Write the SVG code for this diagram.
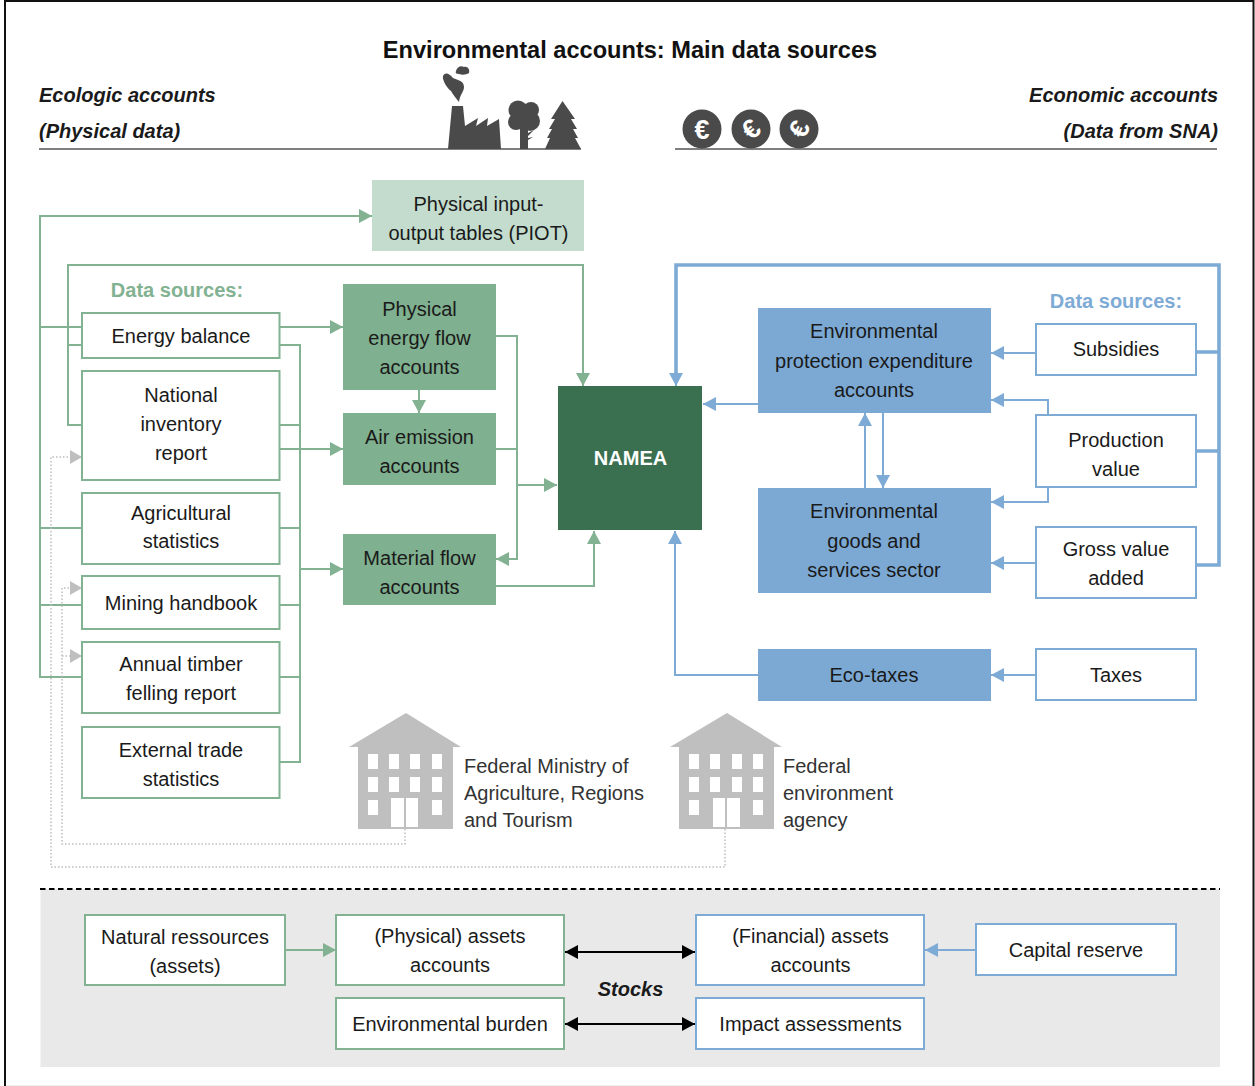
<svg xmlns="http://www.w3.org/2000/svg" width="1255" height="1086" viewBox="0 0 1255 1086">
<defs>
<style>
text{font-family:"Liberation Sans",Arial,sans-serif;font-size:20px;fill:#1a1a1a;text-anchor:middle}
.t{font-weight:700;font-size:23.6px;fill:#111}
.h{font-weight:700;font-style:italic;text-anchor:start;fill:#1a1a1a}
.e{text-anchor:end}
.g{fill:#82b292;font-weight:700}
.b{fill:#7eabd5;font-weight:700}
.l{text-anchor:start;fill:#333}
.gb{fill:#fff;stroke:#82b292;stroke-width:2}
.bb{fill:#fff;stroke:#7eabd5;stroke-width:2}
.gf{fill:#7fb08f}
.bf{fill:#7ba9d4}
.gl{fill:none;stroke:#82b292;stroke-width:2}
.bl{fill:none;stroke:#7eabd5;stroke-width:2}
.bt{fill:none;stroke:#7eabd5;stroke-width:3.600}
.dl{fill:none;stroke:#bdbdbd;stroke-width:1.500;stroke-dasharray:1.500 2}
.kl{fill:none;stroke:#000;stroke-width:2}
.ic{fill:#4a4a4a}
.bd{fill:#bfbfbf}
.w{fill:#fff}
</style>
<marker id="ag" viewBox="0 0 13 14" refX="13" refY="7" markerWidth="13" markerHeight="14" markerUnits="userSpaceOnUse" orient="auto"><path d="M0 0L13 7L0 14Z" fill="#82b292"/></marker>
<marker id="ab" viewBox="0 0 13 14" refX="13" refY="7" markerWidth="13" markerHeight="14" markerUnits="userSpaceOnUse" orient="auto"><path d="M0 0L13 7L0 14Z" fill="#7eabd5"/></marker>
<marker id="ay" viewBox="0 0 12 14" refX="12" refY="7" markerWidth="12" markerHeight="14" markerUnits="userSpaceOnUse" orient="auto"><path d="M0 0L12 7L0 14Z" fill="#bfbfbf"/></marker>
<marker id="ak" viewBox="0 0 13 14" refX="13" refY="7" markerWidth="13" markerHeight="14" markerUnits="userSpaceOnUse" orient="auto-start-reverse"><path d="M0 0L13 7L0 14Z" fill="#000"/></marker>
</defs>
<rect width="1255" height="1086" fill="#fff"/>
<path d="M5 1086V1H1253.500V1086" fill="none" stroke="#111" stroke-width="2"/>
<path d="M6 1085.500H1252" fill="none" stroke="#eee" stroke-width="1"/>
<rect x="40.500" y="889" width="1179.500" height="178" fill="#e9e9e9"/>
<path d="M40 889H1220" fill="none" stroke="#000" stroke-width="1.800" stroke-dasharray="5.500 3.500"/>

<g id="header">
<text class="t" x="630" y="57.500">Environmental accounts: Main data sources</text>
<text class="h" x="39" y="102">Ecologic accounts</text>
<text class="h" x="39" y="138">(Physical data)</text>
<text class="h e" x="1218" y="102" style="text-anchor:end">Economic accounts</text>
<text class="h e" x="1218" y="138" style="text-anchor:end">(Data from SNA)</text>
<path d="M39 149H581M675 149H1217" stroke="#555" stroke-width="1.500" fill="none"/>
</g>
<g id="icon-factory">
<path class="ic" d="M448 149L452 106H463L465 126L478 118L476 126L488 118L487 126L499 119L501 149Z"/>
<path class="ic" d="M443 76C445 72 449 73 453 78C458 80 464 81 464 87C464 92 460 94 459 102C456 98 453 95 451 91C447 88 442 80 443 76Z"/>
<path class="ic" d="M456 71C457 67 461 65 464 67C468 66 470 70 469 73C466 75 462 75 459 74C456 74 455 73 456 71Z"/>
</g>
<g id="icon-tree">
<circle class="ic" cx="518" cy="110" r="9.500"/><circle class="ic" cx="531" cy="110" r="8"/><circle class="ic" cx="516" cy="122" r="8"/><circle class="ic" cx="530" cy="121" r="10"/><circle class="ic" cx="523" cy="118" r="9"/>
<path class="ic" d="M520 125H528V133L534 130L528 136V138L533 137L528 140V149H520Z"/>
</g>
<g id="icon-pine">
<path class="ic" d="M562.500 101L575 119H571L577 129H573L578 138H575L581 149H545L550 138H547L552 129H549L555 119H551Z"/>
</g>
<g id="icon-euro">
<circle class="ic" cx="702" cy="129" r="19.500"/><circle class="ic" cx="751" cy="129" r="19.500"/><circle class="ic" cx="799" cy="129" r="19.500"/>
<text x="702" y="138.500" style="font-size:27px;font-weight:700;fill:#fff">€</text>
<text transform="rotate(-40 751 129)" x="751" y="138.500" style="font-size:27px;font-weight:700;fill:#fff">€</text>
<text transform="rotate(-65 799 129)" x="799" y="138.500" style="font-size:27px;font-weight:700;fill:#fff">€</text>
</g>

<g id="connectors">
<path class="gl" d="M82 677H40V216H372" marker-end="url(#ag)"/>
<path class="gl" d="M40 327H82M40 528H82M40 605H82"/>
<path class="gl" d="M82 425H68V265H583V386" marker-end="url(#ag)"/>
<path class="gl" d="M68 345H82"/>
<path class="gl" d="M280 345H300V762H280M280 425H300M280 528H300M280 605H300M280 677H300"/>
<path class="gl" d="M300 569H343" marker-end="url(#ag)"/>
<path class="gl" d="M280 327H343" marker-end="url(#ag)"/>
<path class="gl" d="M280 449H343" marker-end="url(#ag)"/>
<path class="gl" d="M419 390V413" marker-end="url(#ag)"/>
<path class="gl" d="M495 336H517V559H496" marker-end="url(#ag)"/>
<path class="gl" d="M495 449H517"/>
<path class="gl" d="M517 485H557" marker-end="url(#ag)"/>
<path class="gl" d="M495 586H594V531" marker-end="url(#ag)"/>
<path class="gl" d="M285 950H336" marker-end="url(#ag)"/>
<path class="bt" d="M1196 565H1219V265H676V375"/>
<path class="bt" d="M1196 352H1219M1196 451H1219"/>
<path class="bl" d="M676 360V386" marker-end="url(#ab)"/>
<path class="bl" d="M758 404H703" marker-end="url(#ab)"/>
<path class="bl" d="M758 675H675V531" marker-end="url(#ab)"/>
<path class="bl" d="M865 488V413" marker-end="url(#ab)"/>
<path class="bl" d="M883 413V488" marker-end="url(#ab)"/>
<path class="bl" d="M1036 353H991" marker-end="url(#ab)"/>
<path class="bl" d="M1048 415V400H991" marker-end="url(#ab)"/>
<path class="bl" d="M1048 487V502H991" marker-end="url(#ab)"/>
<path class="bl" d="M1036 563H991" marker-end="url(#ab)"/>
<path class="bl" d="M1036 675H991" marker-end="url(#ab)"/>
<path class="bl" d="M976 950H925" marker-end="url(#ab)"/>
<path class="dl" d="M725 829V867H51V457H82" marker-end="url(#ay)"/>
<path class="dl" d="M405 829V844H62V588H82" marker-end="url(#ay)"/>
<path class="dl" d="M62 656H82" marker-end="url(#ay)"/>
<path class="kl" d="M565 952H695" marker-start="url(#ak)" marker-end="url(#ak)"/>
<path class="kl" d="M565 1024H695" marker-start="url(#ak)" marker-end="url(#ak)"/>
</g>

<text class="g" x="177" y="297">Data sources:</text>
<text class="b" x="1116" y="308">Data sources:</text>

<g id="piot"><rect x="372" y="180" width="212" height="71" fill="#c3dccd"/><text x="478.500" y="211">Physical input-</text><text x="478.500" y="240">output tables (PIOT)</text></g>
<g id="energy-balance"><rect class="gb" x="82" y="313" width="197.500" height="45"/><text x="181" y="343">Energy balance</text></g>
<g id="national-inventory"><rect class="gb" x="82" y="371" width="197.500" height="109"/><text x="181" y="402">National</text><text x="181" y="431">inventory</text><text x="181" y="460">report</text></g>
<g id="agricultural"><rect class="gb" x="82" y="493" width="197.500" height="71"/><text x="181" y="520">Agricultural</text><text x="181" y="548">statistics</text></g>
<g id="mining"><rect class="gb" x="82" y="576" width="197.500" height="53"/><text x="181" y="610">Mining handbook</text></g>
<g id="timber"><rect class="gb" x="82" y="642" width="197.500" height="71"/><text x="181" y="671">Annual timber</text><text x="181" y="700">felling report</text></g>
<g id="trade"><rect class="gb" x="82" y="727" width="197.500" height="71"/><text x="181" y="757">External trade</text><text x="181" y="786">statistics</text></g>

<g id="energy-flow"><rect class="gf" x="343" y="284" width="153" height="106"/><text x="419.500" y="316">Physical</text><text x="419.500" y="345">energy flow</text><text x="419.500" y="374">accounts</text></g>
<g id="air-emission"><rect class="gf" x="343" y="413" width="153" height="72"/><text x="419.500" y="444">Air emission</text><text x="419.500" y="473">accounts</text></g>
<g id="material-flow"><rect class="gf" x="343" y="534" width="153" height="71"/><text x="419.500" y="565">Material flow</text><text x="419.500" y="594">accounts</text></g>
<g id="namea"><rect x="558" y="386" width="144" height="144" fill="#3a6f50"/><text x="630.500" y="465" style="fill:#fff;font-weight:700">NAMEA</text></g>

<g id="epe"><rect class="bf" x="758" y="308" width="233" height="105"/><text x="874" y="338">Environmental</text><text x="874" y="368">protection expenditure</text><text x="874" y="397">accounts</text></g>
<g id="egs"><rect class="bf" x="758" y="488" width="233" height="105"/><text x="874" y="518">Environmental</text><text x="874" y="548">goods and</text><text x="874" y="577">services sector</text></g>
<g id="eco-taxes"><rect class="bf" x="758" y="649" width="233" height="52"/><text x="874" y="682">Eco-taxes</text></g>
<g id="subsidies"><rect class="bb" x="1036" y="324" width="160" height="51"/><text x="1116" y="356">Subsidies</text></g>
<g id="production"><rect class="bb" x="1036" y="415" width="160" height="72"/><text x="1116" y="447">Production</text><text x="1116" y="476">value</text></g>
<g id="gross"><rect class="bb" x="1036" y="527" width="160" height="71"/><text x="1116" y="556">Gross value</text><text x="1116" y="585">added</text></g>
<g id="taxes"><rect class="bb" x="1036" y="649" width="160" height="51"/><text x="1116" y="682">Taxes</text></g>

<g id="ministry">
<path class="bd" d="M349 747L406 713L461 747H453V829H358V747Z"/>
<path class="w" d="M368 754h10v15h-10zM389 754h10v15h-10zM410 754h10v15h-10zM432 754h10v15h-10zM368 777h10v15h-10zM389 777h10v15h-10zM410 777h10v15h-10zM432 777h10v15h-10zM368 800h10v15h-10zM432 800h10v15h-10zM391 798h13v29h-13zM406 798h12v29h-12z"/>
<text class="l" x="464" y="773">Federal Ministry of</text><text class="l" x="464" y="800">Agriculture, Regions</text><text class="l" x="464" y="827">and Tourism</text>
</g>
<g id="agency">
<path class="bd" d="M670 747L727 713L782 747H774V829H679V747Z"/>
<path class="w" d="M689 754h10v15h-10zM710 754h10v15h-10zM732 754h10v15h-10zM753 754h10v15h-10zM689 777h10v15h-10zM710 777h10v15h-10zM732 777h10v15h-10zM753 777h10v15h-10zM689 800h10v15h-10zM753 800h10v15h-10zM713 798h12v29h-12zM727 798h13v29h-13z"/>
<text class="l" x="783" y="773">Federal</text><text class="l" x="783" y="800">environment</text><text class="l" x="783" y="827">agency</text>
</g>

<g id="natural"><rect class="gb" x="85" y="915" width="200" height="70"/><text x="185" y="944">Natural ressources</text><text x="185" y="973">(assets)</text></g>
<g id="physical-assets"><rect class="gb" x="336" y="915" width="228" height="70"/><text x="450" y="943">(Physical) assets</text><text x="450" y="972">accounts</text></g>
<g id="financial-assets"><rect class="bb" x="696" y="915" width="228" height="70"/><text x="810.500" y="943">(Financial) assets</text><text x="810.500" y="972">accounts</text></g>
<g id="capital"><rect class="bb" x="976" y="924" width="200" height="51"/><text x="1076" y="957">Capital reserve</text></g>
<g id="burden"><rect class="gb" x="336" y="998" width="228" height="51"/><text x="450" y="1031">Environmental burden</text></g>
<g id="impact"><rect class="bb" x="696" y="998" width="228" height="51"/><text x="810.500" y="1031">Impact assessments</text></g>
<text x="630.500" y="996" style="font-weight:700;font-style:italic">Stocks</text>
</svg>
